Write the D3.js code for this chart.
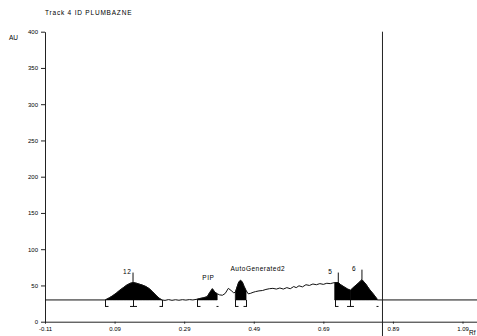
<!DOCTYPE html>
<html><head><meta charset="utf-8">
<script src="https://cdn.jsdelivr.net/npm/d3@7"></script>
<style>
html,body{margin:0;padding:0;background:#fff;}
svg{display:block;}
text{font-family:"Liberation Sans",Arial,sans-serif;fill:#000;}
</style></head>
<body>
<svg id="chart" width="477" height="336"></svg>
<script>
const title = "Track 4 ID PLUMBAZNE";
const yLabel = "AU";
const xLabel = "Rf";
const yTicks = [0, 50, 100, 150, 200, 250, 300, 350, 400];
const xTicks = [-0.11, 0.09, 0.29, 0.49, 0.69, 0.89, 1.09];
const baselineAU = 30;
const frontRf = 0.86;

// densitogram trace (Rf, AU)
const traceRf = [-0.11, 0.063, 0.075, 0.085, 0.095, 0.105, 0.115, 0.125, 0.135, 0.143, 0.150, 0.160, 0.170, 0.180, 0.190, 0.200, 0.210, 0.218, 0.226,
  0.235, 0.245, 0.255, 0.265, 0.275, 0.285, 0.295, 0.305, 0.315, 0.327,
  0.335, 0.345, 0.356, 0.363, 0.371, 0.378, 0.385, 0.392, 0.400, 0.408, 0.417, 0.425, 0.432, 0.437,
  0.442, 0.447, 0.452, 0.457, 0.462, 0.468, 0.474, 0.480, 0.488, 0.495, 0.505, 0.515, 0.525, 0.535, 0.545, 0.555, 0.565, 0.575, 0.585, 0.595, 0.605, 0.612, 0.620, 0.630, 0.640, 0.650, 0.660, 0.670, 0.680, 0.690, 0.700, 0.710, 0.7225,
  0.733, 0.740, 0.750, 0.760, 0.768, 0.778, 0.790, 0.801, 0.812, 0.822, 0.834, 0.845];
const traceAU = [30, 30, 33, 36, 39.5, 43.5, 47, 50.5, 53, 54, 53.5, 52, 50.5, 48.5, 45.5, 41, 36, 32.5, 30,
  29.4, 30.5, 29.5, 30.3, 29.6, 30.4, 29.8, 30.5, 30, 31,
  32, 33, 34.5, 40, 45.5, 41, 38.5, 37, 36.5, 39, 46, 43, 40, 40.5,
  48, 55, 57, 55, 49, 43, 38.5, 39, 40.5, 41.5, 42.5, 43, 44.5, 45.5, 46, 45, 46.5, 45, 47, 45.5, 48.5, 47, 49.5, 48, 51, 50, 52, 51, 52.5, 51.5, 53, 52.5, 54,
  54, 51, 48, 45, 43.5, 48, 53, 58, 52, 45, 38, 31];

// integrated peaks
const peakNames = ["12", "PIP", "AutoGenerated2", "5", "6"];
const peakStart = [0.063, 0.327, 0.437, 0.7225, 0.768];
const peakApex  = [0.143, 0.371, 0.452, 0.733, 0.801];
const peakEnd   = [0.226, 0.385, 0.468, 0.768, 0.845];
const apexTickShown = [true, false, false, true, true];

// integration boundary marks
const markRf   = [0.063, 0.143, 0.226, 0.327, 0.385, 0.437, 0.468, 0.7225, 0.768, 0.845];
const markType = ["start", "mid", "end", "start", "dot", "start", "end", "start", "mid", "dot"];

const svg = d3.select("#chart");
const x = d3.scaleLinear().domain([-0.11, 1.09]).range([45, 462.5]);
const y = d3.scaleLinear().domain([0, 400]).range([321.7, 31.7]);
const W = 477;

// title and labels
svg.append("text").attr("x", 45).attr("y", 15).attr("font-size", 6.5)
  .attr("letter-spacing", 0.8).text(title);
svg.append("text").attr("x", 9).attr("y", 40).attr("font-size", 6.5).text(yLabel);
svg.append("text").attr("x", 469).attr("y", 335).attr("font-size", 6.5).text(xLabel);

// y axis
const yAxis = svg.append("g").attr("transform", "translate(45,0)")
  .call(d3.axisLeft(y).tickValues(yTicks).tickSize(4).tickPadding(3).tickSizeOuter(0));
yAxis.select(".domain").attr("stroke", "#222");
yAxis.selectAll(".tick line").attr("stroke", "#222");
yAxis.selectAll("text").attr("font-size", 6).attr("font-family", "Liberation Sans, Arial, sans-serif").attr("fill", "#000");

// x axis
const xAxisScale = x.copy().domain([-0.11, x.invert(W)]).range([45, W]);
const xAxis = svg.append("g").attr("transform", `translate(0,${y(0)})`)
  .call(d3.axisBottom(xAxisScale).tickValues(xTicks).tickSize(2).tickPadding(3).tickSizeOuter(0)
    .tickFormat(d => d.toFixed(2)));
xAxis.select(".domain").attr("stroke", "#222");
xAxis.selectAll(".tick line").attr("stroke", "#222");
xAxis.selectAll("text").attr("font-size", 6).attr("font-family", "Liberation Sans, Arial, sans-serif").attr("fill", "#000");

const pts = traceRf.map((r, i) => [r, traceAU[i]]);

// peak fills
peakNames.forEach((n, i) => {
  const seg = pts.filter(p => p[0] >= peakStart[i] - 1e-9 && p[0] <= peakEnd[i] + 1e-9);
  svg.append("path").datum(seg)
    .attr("d", d3.area().x(d => x(d[0])).y0(y(baselineAU)).y1(d => y(d[1])))
    .attr("fill", "#000").attr("stroke", "#000").attr("stroke-width", 0.6);
});

// trace line
svg.append("path").datum(pts)
  .attr("d", d3.line().x(d => x(d[0])).y(d => y(d[1])))
  .attr("fill", "none").attr("stroke", "#111").attr("stroke-width", 1);

// baseline after last peak
svg.append("line").attr("x1", x(0.845)).attr("x2", W)
  .attr("y1", y(baselineAU)).attr("y2", y(baselineAU))
  .attr("stroke", "#111").attr("stroke-width", 1);

// solvent front line
svg.append("line").attr("x1", x(frontRf)).attr("x2", x(frontRf))
  .attr("y1", y(400)).attr("y2", 336).attr("stroke", "#222").attr("stroke-width", 1);

// apex ticks and labels
peakNames.forEach((n, i) => {
  const ai = traceRf.indexOf(peakApex[i]);
  const av = traceAU[ai];
  if (apexTickShown[i]) {
    svg.append("line").attr("x1", x(peakApex[i])).attr("x2", x(peakApex[i]))
      .attr("y1", y(av)).attr("y2", y(av) - 10).attr("stroke", "#111").attr("stroke-width", 1);
  }
  svg.append("text").attr("x", x(peakApex[i]) - 10).attr("y", y(av) - 9)
    .attr("font-size", 6.5).attr("letter-spacing", 0.5).text(n);
});

// boundary marks under baseline
const by = y(baselineAU);
markRf.forEach((r, i) => {
  const mx = Math.round(x(r)) + 0.5;
  const t = markType[i];
  const g = svg.append("g").attr("stroke", "#111").attr("stroke-width", 1).attr("fill", "none");
  if (t === "dot") {
    g.append("line").attr("x1", mx - 1).attr("x2", mx + 1).attr("y1", by + 6.5).attr("y2", by + 6.5);
    return;
  }
  g.append("line").attr("x1", mx).attr("x2", mx).attr("y1", by).attr("y2", by + 7);
  if (t === "start") g.append("line").attr("x1", mx).attr("x2", mx + 3).attr("y1", by + 6.5).attr("y2", by + 6.5);
  if (t === "end") g.append("line").attr("x1", mx - 3).attr("x2", mx).attr("y1", by + 6.5).attr("y2", by + 6.5);
  if (t === "mid") g.append("line").attr("x1", mx - 3.5).attr("x2", mx + 3.5).attr("y1", by + 6.5).attr("y2", by + 6.5);
});
</script>
</body></html>
